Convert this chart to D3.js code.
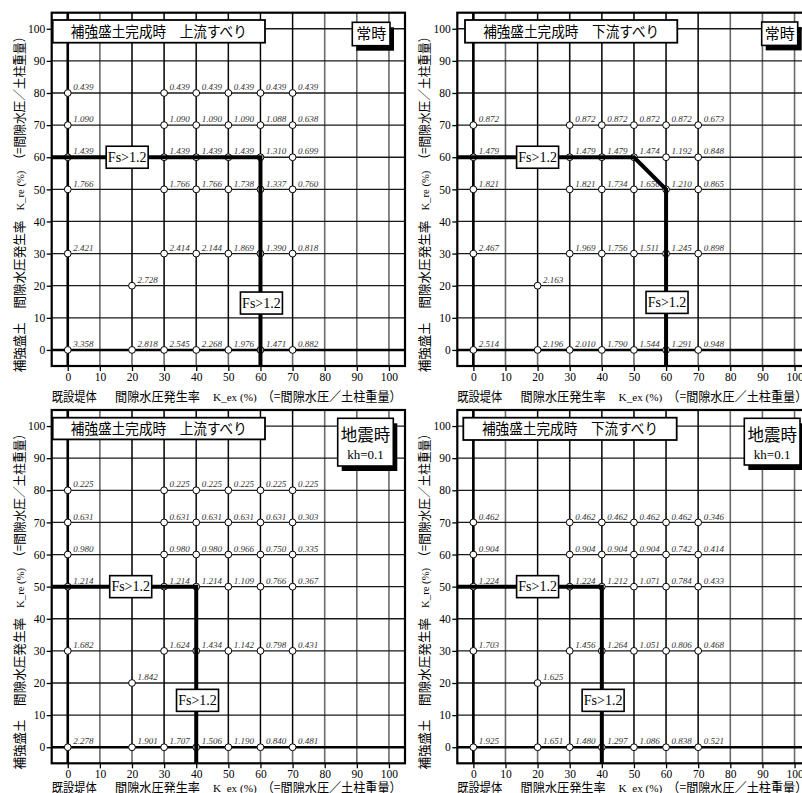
<!DOCTYPE html>
<html><head><meta charset="utf-8">
<script src="https://cdn.jsdelivr.net/npm/d3@7"></script>
<style>
html,body{margin:0;padding:0;background:#fff;overflow:hidden;}
svg{display:block;}
</style></head>
<body>
<svg id="chart" width="802" height="793"></svg>
<script>
// ---------- data ----------
const kex = [0, 20, 30, 40, 50, 60, 70];          // 既設堤体 K_ex (%)
const kre = [80, 70, 60, 50, 30, 20, 0];          // 補強盛土 K_re (%)
const xTicks = [0,10,20,30,40,50,60,70,80,90,100];
const yTicks = [0,10,20,30,40,50,60,70,80,90,100];

const fsUpNormal = [
  [0.439, null, 0.439, 0.439, 0.439, 0.439, 0.439],
  [1.090, null, 1.090, 1.090, 1.090, 1.088, 0.638],
  [1.439, null, 1.439, 1.439, 1.439, 1.310, 0.699],
  [1.766, null, 1.766, 1.766, 1.738, 1.337, 0.760],
  [2.421, null, 2.414, 2.144, 1.869, 1.390, 0.818],
  [null, 2.728, null, null, null, null, null],
  [3.358, 2.818, 2.545, 2.268, 1.976, 1.471, 0.882]
];
const fsDownNormal = [
  [null, null, null, null, null, null, null],
  [0.872, null, 0.872, 0.872, 0.872, 0.872, 0.673],
  [1.479, null, 1.479, 1.479, 1.474, 1.192, 0.848],
  [1.821, null, 1.821, 1.734, 1.650, 1.210, 0.865],
  [2.467, null, 1.969, 1.756, 1.511, 1.245, 0.898],
  [null, 2.163, null, null, null, null, null],
  [2.514, 2.196, 2.010, 1.790, 1.544, 1.291, 0.948]
];
const fsUpQuake = [
  [0.225, null, 0.225, 0.225, 0.225, 0.225, 0.225],
  [0.631, null, 0.631, 0.631, 0.631, 0.631, 0.303],
  [0.980, null, 0.980, 0.980, 0.966, 0.750, 0.335],
  [1.214, null, 1.214, 1.214, 1.109, 0.766, 0.367],
  [1.682, null, 1.624, 1.434, 1.142, 0.798, 0.431],
  [null, 1.842, null, null, null, null, null],
  [2.278, 1.901, 1.707, 1.506, 1.190, 0.840, 0.481]
];
const fsDownQuake = [
  [null, null, null, null, null, null, null],
  [0.462, null, 0.462, 0.462, 0.462, 0.462, 0.346],
  [0.904, null, 0.904, 0.904, 0.904, 0.742, 0.414],
  [1.224, null, 1.224, 1.212, 1.071, 0.784, 0.433],
  [1.703, null, 1.456, 1.264, 1.051, 0.806, 0.468],
  [null, 1.625, null, null, null, null, null],
  [1.925, 1.651, 1.480, 1.297, 1.086, 0.838, 0.521]
];

// Fs = 1.2 boundary lines (K_ex, K_re)
const boundUpNormal   = [[-5, 60], [60, 60], [60, -5]];
const boundDownNormal = [[-5, 60], [50, 60], [60, 50], [60, -5]];
const boundUpQuake    = [[-5, 50], [40, 50], [40, -5]];
const boundDownQuake  = [[-5, 50], [40, 50], [40, -5]];

// label anchor points for "Fs>1.2"
const fsLabelsUpNormal   = [[18.5, 60], [60.3, 14.6]];
const fsLabelsDownNormal = [[20, 60], [60.3, 14.8]];
const fsLabelsUpQuake    = [[19.6, 50], [40.4, 14.6]];
const fsLabelsDownQuake  = [[20, 50], [40.4, 14.6]];

const titles = ["補強盛土完成時\u3000上流すべり", "補強盛土完成時\u3000下流すべり",
                "補強盛土完成時\u3000上流すべり", "補強盛土完成時\u3000下流すべり"];
const modes = ["常時", "常時", "地震時", "地震時"];
const modeSub = [null, null, "kh=0.1", "kh=0.1"];
const fsText = "Fs>1.2";

// ---------- layout ----------
const W = 353.3;
const panels = [
  {left: 51.7, top: 12.7, fs: fsUpNormal, bound: boundUpNormal, lab: fsLabelsUpNormal,
   tbox: {dx: 1, dy: 7.3, w: 212.3, h: 22.7}, mbox: {dx: 300.6, dy: 9.6, w: 37.7, h: 23.4}},
  {left: 457.3, top: 12.7, fs: fsDownNormal, bound: boundDownNormal, lab: fsLabelsDownNormal,
   tbox: {dx: 7.7, dy: 7.3, w: 212.3, h: 22.7}, mbox: {dx: 304.4, dy: 9.3, w: 36, h: 23.4}},
  {left: 51.7, top: 410, fs: fsUpQuake, bound: boundUpQuake, lab: fsLabelsUpQuake,
   tbox: {dx: 1, dy: 7.7, w: 212.3, h: 21.7}, mbox: {dx: 286, dy: 8.3, w: 55.6, h: 47.7}},
  {left: 457.3, top: 410, fs: fsDownQuake, bound: boundDownQuake, lab: fsLabelsDownQuake,
   tbox: {dx: 6, dy: 7.7, w: 213.4, h: 22.3}, mbox: {dx: 287, dy: 8.3, w: 55.7, h: 46.7}}
];

const serif = "'Liberation Serif','Times New Roman',serif";
const sans = "'Noto Sans CJK JP','Noto Sans',sans-serif";
const svg = d3.select("#chart");

panels.forEach((p, i) => {
  const x = d3.scaleLinear().domain([-5, 105]).range([p.left, p.left + W]);
  const y = d3.scaleLinear().domain([-5, 105]).range([p.top + W, p.top]);
  const g = svg.append("g");

  // clip
  const cid = "clip" + i;
  svg.append("defs").append("clipPath").attr("id", cid)
    .append("rect").attr("x", p.left).attr("y", p.top).attr("width", W).attr("height", W);

  const inner = g.append("g").attr("clip-path", `url(#${cid})`);

  // grid
  inner.selectAll(".vg").data(xTicks).join("line")
    .attr("x1", d => x(d)).attr("x2", d => x(d)).attr("y1", p.top).attr("y2", p.top + W)
    .attr("stroke", "#6a6a6a").attr("stroke-width", 1.6);
  inner.selectAll(".hg").data(yTicks).join("line")
    .attr("y1", d => y(d)).attr("y2", d => y(d)).attr("x1", p.left).attr("x2", p.left + W)
    .attr("stroke", "#1a1a1a").attr("stroke-width", 1.3);

  // data columns (vertical connectors)
  kex.forEach((kx, j) => {
    const ys = kre.filter((r, k) => p.fs[k][j] !== null);
    if (ys.length > 1) {
      inner.append("line").attr("x1", x(kx)).attr("x2", x(kx))
        .attr("y1", y(d3.min(ys))).attr("y2", y(105))
        .attr("stroke", "#000").attr("stroke-width", 1.1);
    } else if (ys.length === 1) {
      inner.append("line").attr("x1", x(kx)).attr("x2", x(kx))
        .attr("y1", y(0)).attr("y2", y(ys[0]))
        .attr("stroke", "#000").attr("stroke-width", 1.1);
    }
  });

  // axes zero lines
  inner.append("line").attr("x1", x(0)).attr("x2", x(0)).attr("y1", p.top).attr("y2", p.top + W)
    .attr("stroke", "#000").attr("stroke-width", 2.6);
  inner.append("line").attr("y1", y(0)).attr("y2", y(0)).attr("x1", p.left).attr("x2", p.left + W)
    .attr("stroke", "#000").attr("stroke-width", 2.6);

  // border
  g.append("rect").attr("x", p.left).attr("y", p.top).attr("width", W).attr("height", W)
    .attr("fill", "none").attr("stroke", "#000").attr("stroke-width", 2.2);

  // axes
  const ax = g.append("g").attr("transform", `translate(0,${p.top + W})`)
    .call(d3.axisBottom(x).tickValues(xTicks).tickSize(5).tickPadding(2));
  ax.select(".domain").remove();
  ax.selectAll("line").attr("stroke", "#000").attr("stroke-width", 1.3);
  ax.selectAll("text").attr("font-family", serif).attr("font-size", 11.5).attr("fill", "#000");

  const ay = g.append("g").attr("transform", `translate(${p.left},0)`)
    .call(d3.axisLeft(y).tickValues(yTicks).tickSize(5).tickPadding(1.5));
  ay.select(".domain").remove();
  ay.selectAll("line").attr("stroke", "#000").attr("stroke-width", 1.3);
  ay.selectAll("text").attr("font-family", serif).attr("font-size", 11.5).attr("fill", "#000");

  // points
  const pts = [];
  kre.forEach((r, k) => kex.forEach((c, j) => {
    if (p.fs[k][j] !== null) pts.push({kx: c, kr: r, v: p.fs[k][j]});
  }));
  g.selectAll(".pt").data(pts).join("circle")
    .attr("cx", d => x(d.kx)).attr("cy", d => y(d.kr)).attr("r", 3.4)
    .attr("fill", "#fff").attr("stroke", "#000").attr("stroke-width", 1);
  g.selectAll(".lbl").data(pts).join("text")
    .attr("x", d => x(d.kx) + 5.5).attr("y", d => y(d.kr) - 2.8)
    .attr("font-family", serif).attr("font-style", "italic").attr("font-size", 9)
    .attr("fill", "#333").text(d => d.v.toFixed(3));

  // Fs boundary
  g.append("path").datum(p.bound)
    .attr("d", d3.line().x(d => x(d[0])).y(d => y(d[1])))
    .attr("fill", "none").attr("stroke", "#000").attr("stroke-width", 4)
    .attr("stroke-linejoin", "miter").attr("clip-path", `url(#${cid})`);

  // Fs labels
  p.lab.forEach(l => {
    const cx = x(l[0]), cy = y(l[1]);
    g.append("rect").attr("x", cx - 21).attr("y", cy - 11).attr("width", 42).attr("height", 22)
      .attr("fill", "#fff").attr("stroke", "#000").attr("stroke-width", 1.6);
    g.append("text").attr("x", cx).attr("y", cy + 4.8).attr("text-anchor", "middle")
      .attr("font-family", serif).attr("font-size", 14).attr("fill", "#000").text(fsText);
  });

  // title box
  const tb = p.tbox;
  g.append("rect").attr("x", p.left + tb.dx).attr("y", p.top + tb.dy).attr("width", tb.w).attr("height", tb.h)
    .attr("fill", "#fff").attr("stroke", "#000").attr("stroke-width", 1.8);
  g.append("text").attr("x", p.left + tb.dx + tb.w / 2).attr("y", p.top + tb.dy + tb.h / 2 + 5.2)
    .attr("text-anchor", "middle").attr("font-family", sans).attr("font-size", 14.5)
    .attr("fill", "#000").attr("textLength", 176).attr("lengthAdjust", "spacingAndGlyphs")
    .text(titles[i]);

  // mode box with shadow
  const mb = p.mbox;
  g.append("rect").attr("x", p.left + mb.dx + 4).attr("y", p.top + mb.dy + 5).attr("width", mb.w).attr("height", mb.h)
    .attr("fill", "#000");
  g.append("rect").attr("x", p.left + mb.dx).attr("y", p.top + mb.dy).attr("width", mb.w).attr("height", mb.h)
    .attr("fill", "#fff").attr("stroke", "#000").attr("stroke-width", 1.6);
  if (modeSub[i]) {
    g.append("text").attr("x", p.left + mb.dx + mb.w / 2).attr("y", p.top + mb.dy + 23)
      .attr("text-anchor", "middle").attr("font-family", sans).attr("font-size", 16.5).attr("fill", "#000")
      .text(modes[i]);
    g.append("text").attr("x", p.left + mb.dx + mb.w / 2).attr("y", p.top + mb.dy + 40.5)
      .attr("text-anchor", "middle").attr("font-family", serif).attr("font-size", 13).attr("fill", "#000")
      .text(modeSub[i]);
  } else {
    g.append("text").attr("x", p.left + mb.dx + mb.w / 2).attr("y", p.top + mb.dy + 17)
      .attr("text-anchor", "middle").attr("font-family", sans).attr("font-size", 15).attr("fill", "#000")
      .text(modes[i]);
  }

  // x-axis title
  const xt = g.append("g").attr("transform", `translate(${p.left},${p.top + W + (i < 2 ? 35 : 29)})`);
  const xsegs = [
    {t: "既設堤体", o: 0, l: 45, f: sans, s: 13},
    {t: "間隙水圧発生率", o: 63.3, l: 85, f: sans, s: 13},
    {t: "K_ex (%)", o: 161.3, l: 43.7, f: serif, s: 10.5},
    {t: "（=間隙水圧／土柱重量）", o: 210, l: 140, f: sans, s: 13}
  ];
  xsegs.forEach(s => xt.append("text").attr("x", s.o).attr("y", 0)
    .attr("font-family", s.f).attr("font-size", s.s).attr("fill", "#000")
    .attr("textLength", s.l).attr("lengthAdjust", "spacingAndGlyphs").text(s.t));

  // y-axis title (rotated)
  const yt = g.append("g").attr("transform", `translate(${p.left - 28},${p.top + W + 6.3}) rotate(-90)`);
  const ysegs = [
    {t: "補強盛土", o: 0, l: 50, f: sans, s: 13},
    {t: "間隙水圧発生率", o: 63.7, l: 88, f: sans, s: 13},
    {t: "K_re (%)", o: 161.7, l: 40, f: serif, s: 10.5},
    {t: "（=間隙水圧／土柱重量）", o: 206.7, l: 135, f: sans, s: 13}
  ];
  ysegs.forEach(s => yt.append("text").attr("x", s.o).attr("y", 0)
    .attr("font-family", s.f).attr("font-size", s.s).attr("fill", "#000")
    .attr("textLength", s.l).attr("lengthAdjust", "spacingAndGlyphs").text(s.t));
});
</script>
</body></html>
